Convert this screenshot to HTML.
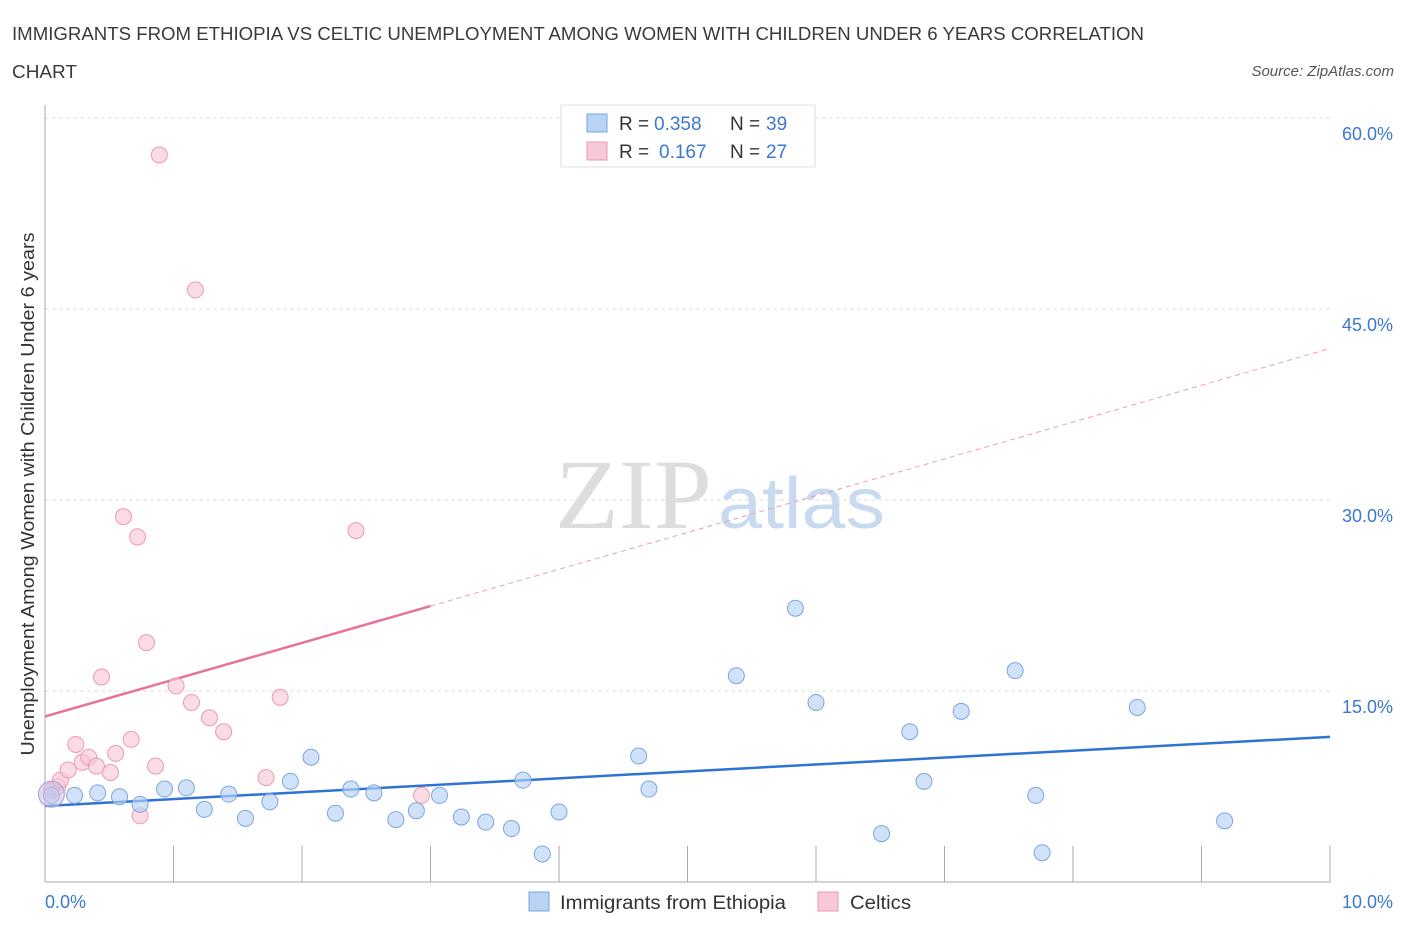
<!DOCTYPE html>
<html><head><meta charset="utf-8"><style>
body{margin:0;background:#fff;font-family:"Liberation Sans",sans-serif;}
</style></head><body>
<svg id="chart" width="1406" height="930" xmlns="http://www.w3.org/2000/svg" font-family="Liberation Sans, sans-serif">
<text x="12" y="40" font-size="18" fill="#3a3a3a" textLength="1132" lengthAdjust="spacingAndGlyphs">IMMIGRANTS FROM ETHIOPIA VS CELTIC UNEMPLOYMENT AMONG WOMEN WITH CHILDREN UNDER 6 YEARS CORRELATION</text>
<text x="12" y="78" font-size="18" fill="#3a3a3a" textLength="65" lengthAdjust="spacingAndGlyphs">CHART</text>
<text x="1394" y="76" font-size="15" fill="#555" text-anchor="end" font-style="italic">Source: ZipAtlas.com</text>
<g>
<text x="555" y="528" font-size="100" fill="#ddd" style="font-family:'Liberation Serif',serif" textLength="157" lengthAdjust="spacingAndGlyphs">ZIP</text>
<text x="718" y="528" font-size="72" fill="#c8daf0" textLength="167" lengthAdjust="spacingAndGlyphs">atlas</text>
</g>
<g id="grid"></g>
<g id="axes"></g>
<g id="lines"></g>
<g id="points"></g>
<text transform="translate(34,494) rotate(-90)" font-size="18" fill="#333" text-anchor="middle" textLength="523" lengthAdjust="spacingAndGlyphs">Unemployment Among Women with Children Under 6 years</text>
<g>
<rect x="561" y="105" width="254" height="62" fill="#fff" stroke="#ddd"/>
<rect x="587" y="114" width="20" height="18" fill="#b9d3f5" stroke="#7aa6e0"/>
<rect x="587" y="142" width="20" height="18" fill="#f9c8d6" stroke="#eb9ab2"/>
<text x="619" y="130" font-size="19" fill="#333">R =</text>
<text x="654" y="130" font-size="19" fill="#3b78d0">0.358</text>
<text x="730" y="130" font-size="19" fill="#333">N =</text>
<text x="766" y="130" font-size="19" fill="#3b78d0">39</text>
<text x="619" y="158" font-size="19" fill="#333">R =</text>
<text x="659" y="158" font-size="19" fill="#3b78d0">0.167</text>
<text x="730" y="158" font-size="19" fill="#333">N =</text>
<text x="766" y="158" font-size="19" fill="#3b78d0">27</text>
</g>
<g>
<rect x="529" y="892" width="20" height="19" fill="#b9d3f5" stroke="#7aa6e0"/>
<text x="560" y="909" font-size="19" fill="#333" textLength="226" lengthAdjust="spacingAndGlyphs">Immigrants from Ethiopia</text>
<rect x="818" y="892" width="20" height="19" fill="#f9c8d6" stroke="#eb9ab2"/>
<text x="850" y="909" font-size="19" fill="#333" textLength="61" lengthAdjust="spacingAndGlyphs">Celtics</text>
</g>
</svg>
<script>
const blueX=[0.05,0.23,0.41,0.58,0.74,0.93,1.10,1.24,1.43,1.56,1.75,1.91,2.07,2.26,2.38,2.56,2.73,2.89,3.07,3.24,3.43,3.63,3.72,3.87,4.00,4.62,4.70,5.38,5.84,6.00,6.51,6.73,6.84,7.13,7.55,7.71,7.76,8.50,9.18];
const blueY=[6.8,6.8,7.0,6.7,6.1,7.3,7.4,5.7,6.9,5.0,6.3,7.9,9.8,5.4,7.3,7.0,4.9,5.6,6.8,5.1,4.7,4.2,8.0,2.2,5.5,9.9,7.3,16.2,21.5,14.1,3.8,11.8,7.9,13.4,16.6,6.8,2.3,13.7,4.8];
const pinkX=[0.05,0.10,0.12,0.18,0.24,0.29,0.34,0.40,0.44,0.51,0.55,0.61,0.67,0.72,0.74,0.79,0.86,0.89,1.02,1.14,1.17,1.28,1.39,1.72,1.83,2.42,2.93];
const pinkY=[7.2,7.5,8.0,8.8,10.8,9.4,9.8,9.1,16.1,8.6,10.1,28.7,11.2,27.1,5.2,18.8,9.1,57.1,15.4,14.1,46.5,12.9,11.8,8.2,14.5,27.6,6.8];
const blueTrend=[5.97,11.4];
const pinkTrend=[13.0,41.9];
const pinkSolidEnd=3.0;
const yTicks=[15,30,45,60];
const xTickLabels=["0.0%","10.0%"];
const NS="http://www.w3.org/2000/svg";
const sx=v=>45+v*128.5, sy=v=>882-v*12.733;
function mk(p,t,a){const e=document.createElementNS(NS,t);for(const k in a)e.setAttribute(k,a[k]);document.getElementById(p).appendChild(e);return e;}
yTicks.forEach(t=>{
 const l=mk('grid','line',{x1:45,x2:1330,y1:sy(t),y2:sy(t),stroke:'#ddd','stroke-dasharray':'4,3'});
 
 
 const tx=mk('grid','text',{x:1393,y:sy(t)+22,'font-size':18,fill:'#3b78d0','text-anchor':'end'});
 tx.textContent=t.toFixed(1)+'%';
 
 
});
const ax=mk('axes','line',{x1:45,x2:1330,y1:882,y2:882,stroke:'#aaa'});


const ay=mk('axes','line',{x1:45,x2:45,y1:105,y2:882,stroke:'#aaa'});


for(let i=1;i<=10;i++){const t=mk('axes','line',{x1:sx(i),x2:sx(i),y1:846,y2:882,stroke:'#aaa'});
 
 }
[[0,xTickLabels[0],'start',45],[10,xTickLabels[1],'end',1393]].forEach(d=>{
 const t=mk('axes','text',{x:d[3],y:908,'font-size':18,fill:'#3b78d0','text-anchor':d[2]});t.textContent=d[1];
 
 });
function pt(xs,ys,fill,stroke,name){xs.forEach((x,i)=>{
 const c=mk('points','circle',{cx:sx(x),cy:sy(ys[i]),r:8,fill:fill,'fill-opacity':0.65,stroke:stroke,'stroke-width':1});
 
 });}
pt(pinkX,pinkY,'#f9c8d6','#eb9ab2','celtics-point');
pt(blueX,blueY,'#b9d3f5','#7aa6e0','ethiopia-point');
const big=mk('points','circle',{cx:sx(0.05),cy:sy(6.9),r:13,fill:'#c9c3e6','fill-opacity':0.6,stroke:'#a8a0d6'});


const pk=t=>pinkTrend[0]+(pinkTrend[1]-pinkTrend[0])*t/10;
const l1=mk('lines','line',{x1:sx(0),y1:sy(blueTrend[0]),x2:sx(10),y2:sy(blueTrend[1]),stroke:'#2f73d6','stroke-width':2.5});


const l2=mk('lines','line',{x1:sx(0),y1:sy(pk(0)),x2:sx(pinkSolidEnd),y2:sy(pk(pinkSolidEnd)),stroke:'#e8709a','stroke-width':2.5});


const l3=mk('lines','line',{x1:sx(pinkSolidEnd),y1:sy(pk(pinkSolidEnd)),x2:sx(10),y2:sy(pk(10)),stroke:'#e8a0b8','stroke-width':1,'stroke-dasharray':'5,4'});


</script>
</body></html>
